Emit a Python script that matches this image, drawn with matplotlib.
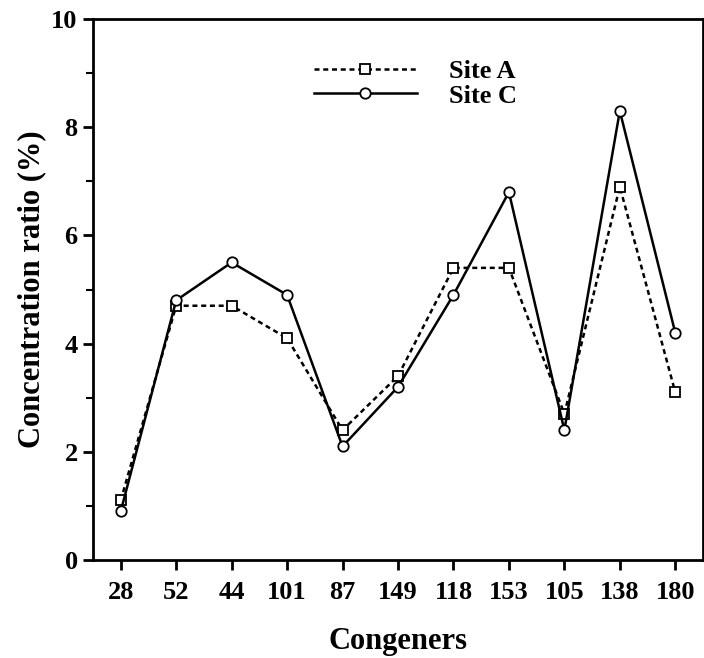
import matplotlib.pyplot as plt
from matplotlib.ticker import MultipleLocator

plt.rcParams['font.family'] = 'Liberation Serif'
plt.rcParams['font.weight'] = 'bold'

# PCB congeners and concentration ratios (%)
congeners = ["28", "52", "44", "101", "87", "149", "118", "153", "105", "138", "180"]
site_a = [1.1, 4.7, 4.7, 4.1, 2.4, 3.4, 5.4, 5.4, 2.7, 6.9, 3.1]
site_c = [0.9, 4.8, 5.5, 4.9, 2.1, 3.2, 4.9, 6.8, 2.4, 8.3, 4.2]

x = list(range(len(congeners)))

fig = plt.figure(figsize=(7.04, 6.58), dpi=100)
ax = fig.add_axes([93 / 704, 98 / 658, 610 / 704, 541 / 658])

ax.plot(x, site_a, linestyle=(0, (2, 1.5)), color="black", linewidth=1.8,
        marker="s", markersize=7, markerfacecolor="white", markeredgewidth=1.3,
        label="Site A")
ax.plot(x, site_c, linestyle="-", color="black", linewidth=1.8,
        marker="o", markersize=7.5, markerfacecolor="white", markeredgewidth=1.3,
        label="Site C")

ax.set_xlim(-0.5, 10.5)
ax.set_ylim(0, 10)
ax.set_xticks(x)
ax.set_xticklabels(congeners)
ax.yaxis.set_major_locator(MultipleLocator(2))
ax.yaxis.set_minor_locator(MultipleLocator(1))

ax.tick_params(axis="both", which="major", direction="out", length=7, width=2,
               labelsize=19)
ax.tick_params(axis="y", which="minor", direction="out", length=5, width=1.5)
ax.tick_params(axis="x", pad=8)
ax.tick_params(axis="y", pad=4)
for s in ax.spines.values():
    s.set_linewidth(2)

ax.set_xlabel("Congeners", fontsize=22, fontweight="bold", labelpad=17)
ax.set_ylabel("Concentration ratio (%)", fontsize=22, fontweight="bold", labelpad=4)

ax.legend(loc="upper left", bbox_to_anchor=(0.345, 0.945), frameon=False,
          handlelength=3.9, handletextpad=1.2, fontsize=19, labelspacing=0.05,
          borderaxespad=0)

fig.savefig("out.png", dpi=100)
